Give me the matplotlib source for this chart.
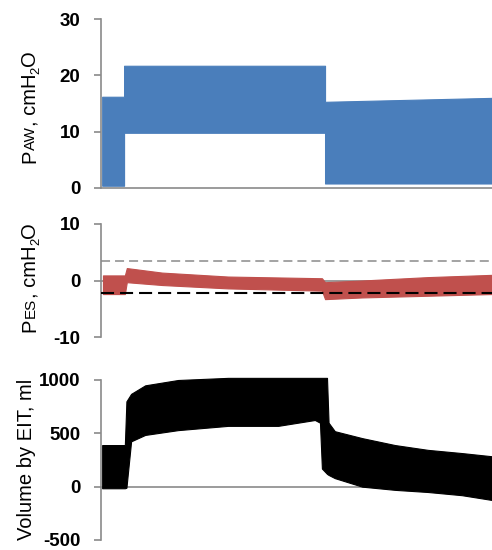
import numpy as np
import matplotlib
matplotlib.use("Agg")
import matplotlib.pyplot as plt
from matplotlib.transforms import IdentityTransform

plt.rcParams['lines.scale_dashes'] = False

# time axis is arbitrary (recording from start to end)
paw_t = [0.3, 5.9, 5.9, 57.3, 57.3, 100]
paw_upper = [16.2, 16.2, 21.7, 21.7, 15.3, 16.0]
paw_lower = [0.4, 0.4, 9.8, 9.8, 0.8, 0.8]

pes_t = [0.5, 6.1, 6.6, 15.6, 32.5, 56.5, 57.3, 66.8, 83.6, 100]
pes_upper = [0.9, 0.9, 2.2, 1.4, 0.7, 0.4, -0.3, 0.0, 0.6, 1.0]
pes_lower = [-2.4, -2.4, -0.3, -0.8, -1.4, -1.8, -3.3, -3.0, -2.7, -2.4]
pes_ref_hi = 3.4
pes_ref_lo = -2.3

vol_t = [0.3, 6.1, 6.5, 7.7, 11.3, 19.7, 32.5, 45.3, 54.7, 56.0, 56.5, 57.8, 58.2, 59.8, 66.8, 75.2, 83.6, 92.3, 100]
vol_upper = [390, 390, 800, 870, 950, 1000, 1020, 1020, 1020, 1020, 1020, 1020, 600, 520, 455, 390, 345, 315, 285]
vol_lower = [-15, -15, -10, 425, 485, 530, 570, 570, 625, 600, 170, 120, 110, 80, 0, -30, -50, -80, -125]

paw_ticks = [0, 10, 20, 30]
pes_ticks = [-10, 0, 10]
vol_ticks = [-500, 0, 500, 1000]

BLUE = '#4a7ebb'
RED = '#c0504d'
GRAY = '#8a8a8a'

fig = plt.figure(figsize=(4.92, 5.5), dpi=100)
W, H = 492.0, 550.0


def make_ax(top_px, bot_px):
    ax = fig.add_axes([101 / W, 1 - bot_px / H, 391 / W, (bot_px - top_px) / H])
    ax.set_xlim(0, 100)
    ax.set_xticks([])
    for s in ('top', 'right'):
        ax.spines[s].set_visible(False)
    ax.spines['left'].set_color(GRAY)
    ax.spines['left'].set_linewidth(1.2)
    ax.spines['bottom'].set_color(GRAY)
    ax.spines['bottom'].set_linewidth(1.2)
    ax.spines['bottom'].set_position(('data', 0))
    ax.spines['bottom'].set_zorder(0.5)
    ax.tick_params(axis='y', direction='out', length=5, width=1.2, color=GRAY, pad=10)
    ax.patch.set_visible(False)
    return ax


def style_ticks(ax, ticks):
    ax.set_yticks(ticks)
    ax.set_yticklabels([str(v) for v in ticks])
    for lab in ax.get_yticklabels():
        lab.set_fontfamily('Liberation Sans')
        lab.set_fontweight('bold')
        lab.set_fontsize(13.5)


ax1 = make_ax(19, 188)
ax1.fill_between(paw_t, paw_lower, paw_upper, color=BLUE, lw=0.8, zorder=1)
ax1.set_ylim(0, 30)
style_ticks(ax1, paw_ticks)

ax2 = make_ax(224, 337)
ax2.fill_between(pes_t, pes_lower, pes_upper, color=RED, lw=0.8, zorder=1)
ax2.axhline(pes_ref_hi, color=GRAY, lw=1.1, dashes=(6.5, 3.6), zorder=2)
ax2.axhline(pes_ref_lo, color='black', lw=1.5, dashes=(9.4, 4.3), zorder=3)
ax2.set_ylim(-10, 10)
style_ticks(ax2, pes_ticks)

ax3 = make_ax(380, 540)
ax3.fill_between(vol_t, vol_lower, vol_upper, color='black', lw=0.8, zorder=1, clip_on=False)
ax3.set_ylim(-500, 1000)
style_ticks(ax3, vol_ticks)


def rotated_label(x_base, y_center, parts, size):
    """parts: (text, size scale, baseline shift in px) drawn bottom-to-top."""
    renderer = fig.canvas.get_renderer()
    items = []
    total = 0
    for s, scale, shift in parts:
        t = fig.text(0, 0, s, rotation=90, rotation_mode='anchor', ha='left', va='baseline',
                     fontsize=size * scale, family='Liberation Sans', transform=IdentityTransform())
        h = t.get_window_extent(renderer).height
        items.append((t, shift, h))
        total += h
    y = y_center - total / 2
    for t, shift, h in items:
        t.set_position((x_base + shift, y))
        y += h


rotated_label(35, H - 107, [('P', 1, 0), ('AW', 0.75, 0), (', cmH', 1, 0), ('2', 0.65, 4), ('O', 1, 0)], 14.5)
rotated_label(35, H - 277, [('P', 1, 0), ('ES', 0.75, 0), (', cmH', 1, 0), ('2', 0.65, 4), ('O', 1, 0)], 14.5)
rotated_label(32, H - 459, [('Volume by EIT, ml', 1, 0)], 14.5)

fig.savefig('out.png', dpi=100)
